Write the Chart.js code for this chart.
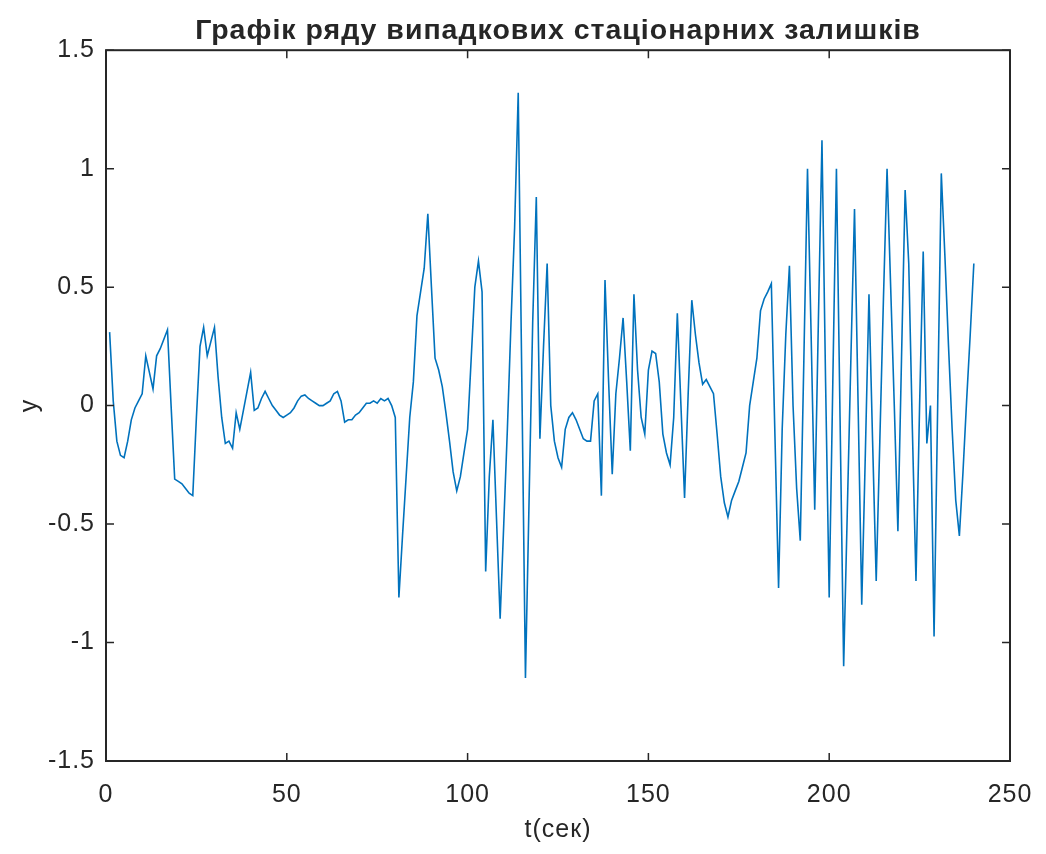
<!DOCTYPE html>
<html>
<head>
<meta charset="utf-8">
<script src="https://cdn.jsdelivr.net/npm/chart.js@4/dist/chart.umd.min.js"></script>
<style>
  html, body { margin: 0; padding: 0; background: #ffffff; }
  #wrap { width: 1046px; height: 854px; }
</style>
</head>
<body>
<div id="wrap"><canvas id="chart" width="1046" height="854"></canvas></div>
<script>
// Residual series, sample n = 1..240
var residuals = [
  0.31, 0.02, -0.15, -0.21, -0.22, -0.15, -0.06, -0.01, 0.02, 0.05,
  0.21, 0.14, 0.07, 0.21, 0.24, 0.28, 0.32, 0.0, -0.31, -0.32,
  -0.33, -0.35, -0.37, -0.38, -0.05, 0.25, 0.33, 0.21, 0.27, 0.33,
  0.12, -0.05, -0.16, -0.15, -0.18, -0.03, -0.10, -0.02, 0.06, 0.14,
  -0.02, -0.01, 0.03, 0.06, 0.03, 0.0, -0.02, -0.04, -0.05, -0.04,
  -0.03, -0.01, 0.02, 0.04, 0.045, 0.03, 0.02, 0.01, 0.0, 0.0,
  0.01, 0.02, 0.05, 0.06, 0.02, -0.07, -0.06, -0.06, -0.04, -0.03,
  -0.01, 0.01, 0.01, 0.02, 0.01, 0.03, 0.02, 0.03, 0.0, -0.05,
  -0.81, -0.55, -0.3, -0.05, 0.1, 0.38, 0.48, 0.58, 0.81, 0.5,
  0.2, 0.15, 0.08, -0.03, -0.15, -0.28, -0.36, -0.3, -0.2, -0.1,
  0.2, 0.5, 0.61, 0.48, -0.7, -0.3, -0.06, -0.48, -0.9, -0.5,
  -0.1, 0.35, 0.75, 1.32, 0.1, -1.15, -0.4, 0.35, 0.88, -0.14,
  0.25, 0.6, 0.0, -0.15, -0.22, -0.26, -0.1, -0.05, -0.03, -0.06,
  -0.1, -0.14, -0.15, -0.15, 0.02, 0.05, -0.38, 0.53, 0.1, -0.29,
  0.05, 0.2, 0.37, 0.1, -0.19, 0.47, 0.15, -0.05, -0.12, 0.15,
  0.23, 0.22, 0.1, -0.12, -0.2, -0.25, -0.05, 0.39, 0.0, -0.39,
  0.05, 0.445, 0.3, 0.18, 0.09, 0.11, 0.08, 0.05, -0.12, -0.3,
  -0.41, -0.47, -0.4, -0.36, -0.32, -0.26, -0.2, 0.0, 0.1, 0.2,
  0.4, 0.45, 0.48, 0.515, -0.13, -0.77, -0.1, 0.3, 0.59, 0.0,
  -0.35, -0.57, 0.2, 1.0, 0.3, -0.44, 0.35, 1.12, 0.1, -0.81,
  0.1, 1.0, -0.05, -1.1, -0.45, 0.2, 0.83, 0.0, -0.84, -0.2,
  0.47, -0.15, -0.74, -0.15, 0.45, 1.0, 0.5, 0.0, -0.53, 0.2,
  0.91, 0.6, -0.1, -0.74, 0.0, 0.65, -0.16, 0.0, -0.975, 0.0,
  0.98, 0.63, 0.25, -0.1, -0.4, -0.55, -0.28, 0.02, 0.3, 0.6
];

var xTicks = [0, 50, 100, 150, 200, 250];
var yTicks = [-1.5, -1, -0.5, 0, 0.5, 1, 1.5];

var chartTitle = 'Графік ряду випадкових стаціонарних залишків';
var xLabel = 't(сек)';
var yLabel = 'y';

var lineColor = '#0072BD';
var axisColor = '#262626';
var fontFamily = '"Liberation Sans", Arial, Helvetica, sans-serif';

// MATLAB-style plot(y): x is the 1-based sample index
var points = residuals.map(function(v, i) {
  return { x: i + 1, y: v };
});

// Slightly wider text, like the MATLAB export
var textSpacing = {
  id: 'textSpacing',
  beforeUpdate: function(chart) { chart.ctx.letterSpacing = '1px'; },
  beforeDraw: function(chart) { chart.ctx.letterSpacing = '1px'; }
};

// Box around the axes with inward ticks on all four sides
var matlabAxes = {
  id: 'matlabAxes',
  afterDatasetsDraw: function(chart) {
    var ctx = chart.ctx;
    var a = chart.chartArea;
    var xs = chart.scales.x;
    var ys = chart.scales.y;
    var len = 8;

    ctx.save();
    ctx.strokeStyle = axisColor;
    ctx.lineWidth = 1.5;
    ctx.beginPath();
    xs.ticks.forEach(function(t) {
      var px = xs.getPixelForValue(t.value);
      ctx.moveTo(px, a.bottom);
      ctx.lineTo(px, a.bottom - len);
      ctx.moveTo(px, a.top);
      ctx.lineTo(px, a.top + len);
    });
    ys.ticks.forEach(function(t) {
      var py = ys.getPixelForValue(t.value);
      ctx.moveTo(a.left, py);
      ctx.lineTo(a.left + len, py);
      ctx.moveTo(a.right, py);
      ctx.lineTo(a.right - len, py);
    });
    ctx.stroke();
    ctx.lineWidth = 2;
    ctx.strokeRect(a.left, a.top, a.right - a.left, a.bottom - a.top);
    ctx.restore();
  }
};

var ctx = document.getElementById('chart');

var chart = new Chart(ctx, {
  type: 'line',
  data: {
    datasets: [{
      data: points,
      borderColor: lineColor,
      borderWidth: 1.6,
      pointRadius: 0,
      tension: 0,
      fill: false
    }]
  },
  options: {
    responsive: false,
    animation: false,
    devicePixelRatio: 1,
    layout: { padding: { left: 0, right: 36, top: 0, bottom: 0 } },
    plugins: {
      legend: { display: false },
      tooltip: { enabled: false },
      title: {
        display: true,
        fullSize: false,
        text: chartTitle,
        color: axisColor,
        font: { family: fontFamily, size: 28.5, weight: 'bold' },
        padding: { top: 14, bottom: 2 }
      }
    },
    scales: {
      x: {
        type: 'linear',
        min: 0,
        max: 250,
        afterBuildTicks: function(scale) {
          scale.ticks = xTicks.map(function(v) { return { value: v }; });
        },
        afterFit: function(scale) {
          scale.height = 93;
          scale.paddingLeft = 0;
          scale.paddingRight = 0;
        },
        grid: { display: false, drawTicks: false },
        border: { display: false },
        ticks: {
          color: axisColor,
          font: { family: fontFamily, size: 25 },
          padding: 19,
          maxRotation: 0,
          callback: function(v) { return String(v); }
        },
        title: {
          display: true,
          text: xLabel,
          color: axisColor,
          font: { family: fontFamily, size: 25 },
          padding: { top: 0, bottom: 9 }
        }
      },
      y: {
        type: 'linear',
        min: -1.5,
        max: 1.5,
        afterBuildTicks: function(scale) {
          scale.ticks = yTicks.map(function(v) { return { value: v }; });
        },
        afterFit: function(scale) { scale.width = 106; },
        grid: { display: false, drawTicks: false },
        border: { display: false },
        ticks: {
          color: axisColor,
          font: { family: fontFamily, size: 25 },
          padding: 11,
          callback: function(v) { return String(v); }
        },
        title: {
          display: true,
          text: yLabel,
          color: axisColor,
          font: { family: fontFamily, size: 25 },
          padding: { top: 15, bottom: 0 }
        }
      }
    }
  },
  plugins: [textSpacing, matlabAxes]
});
</script>
</body>
</html>
